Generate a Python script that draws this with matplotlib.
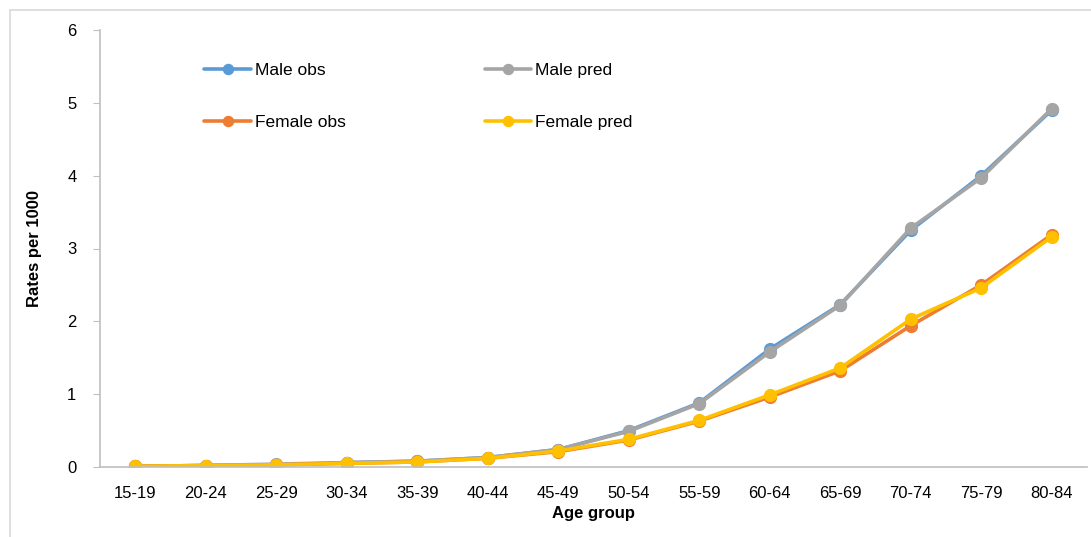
import matplotlib
matplotlib.use("Agg")
import matplotlib.pyplot as plt
from matplotlib.patches import Rectangle

plt.rcParams['font.family'] = ['Liberation Sans', 'DejaVu Sans']

age_groups = ['15-19', '20-24', '25-29', '30-34', '35-39', '40-44', '45-49',
              '50-54', '55-59', '60-64', '65-69', '70-74', '75-79', '80-84']
male_obs = [0.01, 0.02, 0.03, 0.06, 0.08, 0.13, 0.24, 0.50, 0.88, 1.62, 2.23, 3.25, 4.00, 4.90]
male_pred = [0.01, 0.02, 0.04, 0.06, 0.08, 0.13, 0.24, 0.49, 0.87, 1.58, 2.22, 3.28, 3.97, 4.92]
female_obs = [0.01, 0.02, 0.03, 0.05, 0.07, 0.12, 0.21, 0.37, 0.63, 0.96, 1.32, 1.94, 2.50, 3.19]
female_pred = [0.01, 0.02, 0.03, 0.05, 0.07, 0.12, 0.22, 0.38, 0.64, 0.99, 1.36, 2.03, 2.46, 3.16]

series = [
    ('Male obs', male_obs, '#5B9BD5'),
    ('Male pred', male_pred, '#A5A5A5'),
    ('Female obs', female_obs, '#ED7D31'),
    ('Female pred', female_pred, '#FFC000'),
]

fig = plt.figure(figsize=(10.91, 5.37), dpi=100)
# light outer frame like the original chart area
fig.patches.append(Rectangle((10 / 1091, -0.05), 1.2, 1 - 10 / 537 + 0.05,
                             transform=fig.transFigure, fill=False,
                             edgecolor='#D9D9D9', linewidth=1.2))

ax = fig.add_axes([100 / 1091, 1 - 467 / 537, 987 / 1091, 437 / 537])
x = range(len(age_groups))
handles = []
for label, vals, color in series:
    h, = ax.plot(x, vals, '-o', color=color, linewidth=2.6, markersize=8.5,
                 label=label, solid_capstyle='round')
    handles.append(h)

ax.set_xlim(-0.5, len(age_groups) - 0.5)
ax.set_ylim(0, 6)
ax.set_xticks(list(x))
ax.set_xticklabels(age_groups)
ax.set_yticks(range(0, 7))
ax.tick_params(axis='x', length=0, labelsize=12, pad=14)
ax.tick_params(axis='y', length=5, color='#BFBFBF', labelsize=12, pad=12)
for s in ['top', 'right']:
    ax.spines[s].set_visible(False)
for s in ['left', 'bottom']:
    ax.spines[s].set_color('#BFBFBF')
    ax.spines[s].set_linewidth(1.2)

ax.set_xlabel('Age group', fontsize=12, fontweight='bold', labelpad=3)
ax.set_ylabel('Rates per 1000', fontsize=12, fontweight='bold', labelpad=18)

ax.legend(handles=[handles[0], handles[2], handles[1], handles[3]],
          ncol=2, loc='upper left', bbox_to_anchor=(0.09, 0.96),
          frameon=False, fontsize=12.5, handlelength=2.7, handletextpad=0.2,
          columnspacing=8.0, labelspacing=2.1, markerscale=0.85)

fig.savefig('out.png', dpi=100)
